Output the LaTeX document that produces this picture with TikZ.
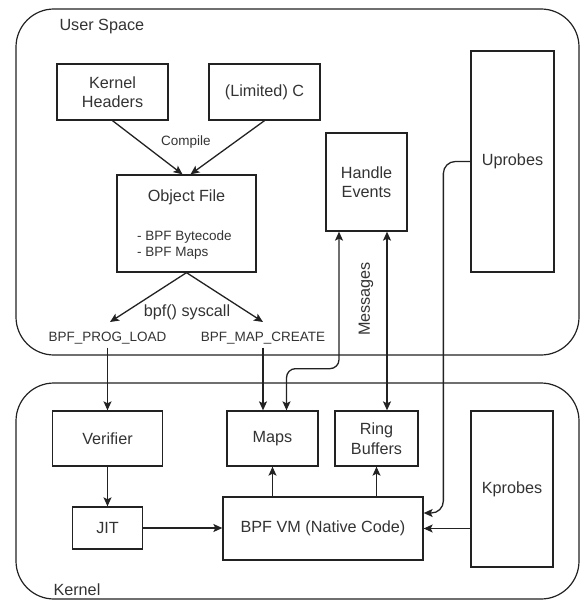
\documentclass[tikz,border=0pt]{standalone}
\usepackage{fontspec}
\setmainfont{Liberation Sans}
\usetikzlibrary{arrows.meta}
\definecolor{txt}{HTML}{333333}
\definecolor{ln}{HTML}{222222}
\begin{document}
\begin{tikzpicture}[x=1pt,y=-1pt,
  every node/.style={text=txt},
  big/.style={font=\fontsize{16.2}{19.5}\selectfont},
  small/.style={font=\fontsize{13.5}{16.7}\selectfont},
  box/.style={draw=ln,line width=1.3pt,big,align=center,inner sep=0pt},
  container/.style={draw=ln,line width=1.2pt,rounded corners=38pt},
  arr/.style={draw=ln,line width=1.3pt,-{Stealth[length=9pt,width=8pt,inset=2pt]}},
  arrboth/.style={draw=ln,line width=1.3pt,{Stealth[length=9pt,width=8pt,inset=2pt]}-{Stealth[length=9pt,width=8pt,inset=2pt]}}
]
\useasboundingbox (0,0) rectangle (580,601);
% containers
\draw[container] (16,9) rectangle (579,355);
\draw[container] (16,383) rectangle (579,599);
\node[big,anchor=west] (us) at (56,27) {User Space};
\node[big,anchor=west] (kl) at (50,590) {Kernel};
% user space boxes
\node[box,minimum width=111pt,minimum height=56pt] (kh) at (112.5,92) {Kernel\\Headers};
\node[box,minimum width=111pt,minimum height=56pt] (lc) at (264.5,92) {(Limited) C};
\node[box,minimum width=139pt,minimum height=97pt] (obj) at (186.5,223.5) {};
\node[big] (objt) at (186.5,197) {Object File};
\node[small,anchor=west,align=left,inner sep=0pt] (objl) at (137,245) {- BPF Bytecode\\- BPF Maps};
\node[box,minimum width=81pt,minimum height=98pt] (he) at (366.5,182) {Handle\\Events};
\node[box,minimum width=83pt,minimum height=221pt] (up) at (512.5,161.5) {Uprobes};
% labels
\node[small] (cmp) at (186,142) {Compile};
\node[big] (sys) at (187,312) {bpf() syscall};
\node[small] (pl) at (107.5,338) {BPF\_PROG\_LOAD};
\node[small] (mc) at (263,338) {BPF\_MAP\_CREATE};
\node[big,rotate=90] (msg) at (366,299) {Messages};
\coordinate (plt) at (110,322);
\coordinate (mct) at (263,322);
% kernel boxes
\node[box,minimum width=110pt,minimum height=55pt] (ver) at (107.5,438.5) {Verifier};
\node[box,minimum width=70pt,minimum height=42pt] (jit) at (107.5,528) {JIT};
\node[box,minimum width=91pt,minimum height=55pt] (maps) at (272.5,438.5) {Maps};
\node[box,minimum width=83pt,minimum height=55pt] (rb) at (376.5,438.5) {Ring\\Buffers};
\node[box,minimum width=200pt,minimum height=63pt] (vm) at (323,528.5) {BPF VM (Native Code)};
\node[box,minimum width=82pt,minimum height=156pt] (kp) at (512,489) {Kprobes};
% connectors
\draw[arr] (kh.south) -- ([xshift=-4pt]obj.north);
\draw[arr] (lc.south) -- ([xshift=4pt]obj.north);
\draw[arr] (obj.south) -- (plt);
\draw[arr] (obj.south) -- (mct);
\draw[arr] (pl.south) -- (pl.south |- ver.north);
\draw[arr] (mc.south) -- (mc.south |- maps.north);
\draw[arr] (ver.south) -- (jit.north);
\draw[arr] (jit.east) -- (jit.east -| vm.west);
\draw[arr] (maps.south |- vm.north) -- (maps.south);
\draw[arr] (rb.south |- vm.north) -- (rb.south);
\draw[arr] (kp.west |- vm.east) -- (vm.east);
\draw[arr,rounded corners=12pt] (up.west) -- ++(-27,0) |- ([yshift=15.5pt]vm.east);
\draw[arrboth,rounded corners=9pt] ([xshift=-27.5pt]he.south) -- ++(0,137) -| ([xshift=14pt]maps.north);
\draw[arrboth] ([xshift=20.5pt]he.south) -- ([xshift=10.5pt]rb.north);
\end{tikzpicture}
\end{document}
